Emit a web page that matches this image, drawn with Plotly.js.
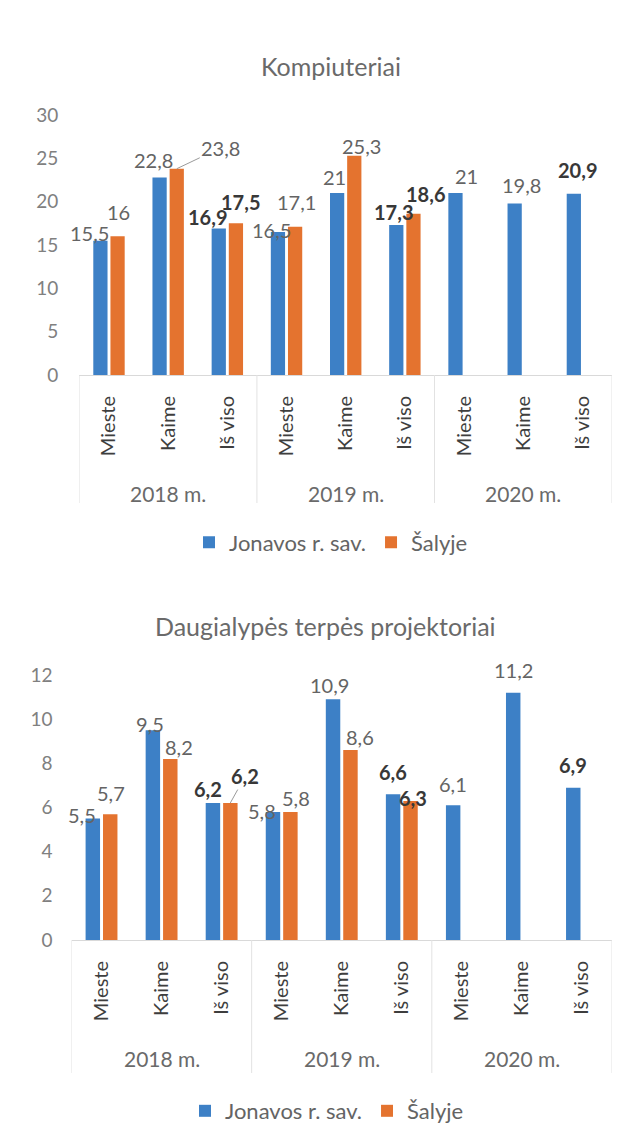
<!DOCTYPE html>
<html>
<head>
<meta charset="utf-8">
<script src="https://cdn.plot.ly/plotly-3.0.1.min.js"></script>
<style>html,body{margin:0;padding:0;background:#fff;}#chart{width:633px;height:1143px;}</style>
</head>
<body>
<div id="chart"></div>
<script>
// ---- data ----
const categories = ['Mieste','Kaime','Iš viso','Mieste','Kaime','Iš viso','Mieste','Kaime','Iš viso'];
const years = ['2018 m.','2019 m.','2020 m.'];
const seriesNames = ['Jonavos r. sav.','Šalyje'];
const title1 = 'Kompiuteriai';
const title2 = 'Daugialypės terpės projektoriai';
const compJonava = [15.5, 22.8, 16.9, 16.5, 21, 17.3, 21, 19.8, 20.9];
const compSalyje = [16, 23.8, 17.5, 17.1, 25.3, 18.6, null, null, null];
const projJonava = [5.5, 9.5, 6.2, 5.8, 10.9, 6.6, 6.1, 11.2, 6.9];
const projSalyje = [5.7, 8.2, 6.2, 5.8, 8.6, 6.3, null, null, null];
const compTicks = [0, 5, 10, 15, 20, 25, 30];
const projTicks = [0, 2, 4, 6, 8, 10, 12];

// ---- style / label placement (pixels) ----
const BLUE = '#3d80c6', ORANGE = '#e4732f';
const FONT = 'Lato, "Open Sans", sans-serif';
const barShift = 8.6;
const compJonavaOff = [[-10.5,8],[-6,17],[-11,12],[-6,2],[-3,16],[-3,13],[11,17],[7,18],[4,24]];
const compSalyjeOff = [[0.5,24],[44,21],[4.6,21],[1.5,24.5],[7,10],[12.5,20]];
const projJonavaOff = [[-11,3.6],[-2.5,6],[-5.5,14],[-10.6,1.3],[-4,14.3],[0,22.6],[0,21.3],[0,22.7],[0,22.6]];
const projSalyjeOff = [[1,21.4],[9,12.3],[15,27],[5.3,13.7],[10,13.4],[3,2.6]];
const compLeaders = {1: [1]};   // series index -> point indices with leader line
const projLeaders = {1: [2]};

const W = 633, H = 1143;
const py = p => 1 - p / H;
const px = p => p / W;
const idx = categories.map((c, i) => i);
const fmt = v => String(v).replace('.', ',');

function bars(vals, name, color, xa, ya, legend, show) {
  return {type: 'bar', x: idx, y: vals, name: name, xaxis: xa, yaxis: ya,
    marker: {color: color}, legend: legend, showlegend: show, hoverinfo: 'skip'};
}

const data = [
  bars(compJonava, seriesNames[0], BLUE, 'x', 'y', 'legend', true),
  bars(compSalyje, seriesNames[1], ORANGE, 'x', 'y', 'legend', true),
  bars(projJonava, seriesNames[0], BLUE, 'x2', 'y2', 'legend2', true),
  bars(projSalyje, seriesNames[1], ORANGE, 'x2', 'y2', 'legend2', true)
];

const annotations = [];
function labels(vals, offs, sIdx, xr, yr, leaders) {
  const sh = sIdx === 0 ? -barShift : barShift;
  vals.forEach((v, i) => {
    if (v === null) return;
    const bold = categories[i] === 'Iš viso';
    const o = offs[i];
    const lead = (leaders[sIdx] || []).indexOf(i) >= 0;
    const a = {xref: xr, yref: yr, x: i, y: v, text: bold ? '<b>' + fmt(v) + '</b>' : fmt(v),
      font: {family: FONT, size: 20, color: bold ? '#383838' : '#646464'}};
    if (lead) {
      Object.assign(a, {showarrow: true, arrowhead: 0, arrowwidth: 1, arrowcolor: '#9a9a9a',
        ax: o[0], ay: -o[1], xshift: sh, standoff: 0});
    } else {
      Object.assign(a, {showarrow: false, xshift: sh + o[0], yshift: o[1], yanchor: 'middle', xanchor: 'center'});
    }
    annotations.push(a);
  });
}
labels(compJonava, compJonavaOff, 0, 'x', 'y', compLeaders);
labels(compSalyje, compSalyjeOff, 1, 'x', 'y', compLeaders);
labels(projJonava, projJonavaOff, 0, 'x2', 'y2', projLeaders);
labels(projSalyje, projSalyjeOff, 1, 'x2', 'y2', projLeaders);

// titles
annotations.push({xref: 'paper', yref: 'paper', x: px(331), y: py(66), text: title1, showarrow: false,
  xanchor: 'center', yanchor: 'middle', font: {family: FONT, size: 25, color: '#6a6a6a'}});
annotations.push({xref: 'paper', yref: 'paper', x: px(325), y: py(626), text: title2, showarrow: false,
  xanchor: 'center', yanchor: 'middle', font: {family: FONT, size: 25, color: '#6a6a6a'}});

// year group labels
const groupSize = categories.length / years.length;
years.forEach((yr, g) => {
  const mid = g * groupSize + (groupSize - 1) / 2;
  annotations.push({xref: 'x', yref: 'paper', x: mid, y: py(493), text: yr, showarrow: false,
    yanchor: 'middle', font: {family: FONT, size: 21, color: '#6a6a6a'}});
  annotations.push({xref: 'x2', yref: 'paper', x: mid, y: py(1058), text: yr, showarrow: false,
    yanchor: 'middle', font: {family: FONT, size: 21, color: '#6a6a6a'}});
});

// divider lines of the two-level category axis
const shapes = [];
for (let g = 0; g <= years.length; g++) {
  const xb = g * groupSize - 0.5;
  shapes.push({type: 'line', xref: 'x', yref: 'paper', x0: xb, x1: xb, y0: py(375), y1: py(503),
    line: {color: '#e2e2e2', width: 1}});
  shapes.push({type: 'line', xref: 'x2', yref: 'paper', x0: xb, x1: xb, y0: py(940), y1: py(1073),
    line: {color: '#e2e2e2', width: 1}});
}

const xCommon = {range: [-0.5, categories.length - 0.5], tickmode: 'array', tickvals: idx, ticktext: categories,
  tickangle: -90, showgrid: false, zeroline: false, showline: true, linecolor: '#d9d9d9', ticks: '',
  ticklabelstandoff: 12, tickfont: {family: FONT, size: 20, color: '#3e3e3e'}, fixedrange: true};
const yCommon = {showgrid: false, zeroline: false, showline: false, ticks: '',
  tickfont: {family: FONT, size: 19, color: '#808080'}, fixedrange: true};

const layout = {
  width: W, height: H, margin: {l: 0, r: 0, t: 0, b: 0},
  paper_bgcolor: '#fff', plot_bgcolor: '#fff',
  barmode: 'group', bargap: 0.42, bargroupgap: 0.17,
  font: {family: FONT},
  xaxis: Object.assign({}, xCommon, {domain: [px(79.4), px(612)], anchor: 'y'}),
  yaxis: Object.assign({}, yCommon, {domain: [py(375), py(115)], range: [0, 30], tickvals: compTicks,
    ticktext: compTicks.map(fmt), anchor: 'x', ticklabelstandoff: 20}),
  xaxis2: Object.assign({}, xCommon, {domain: [px(71.5), px(612)], anchor: 'y2'}),
  yaxis2: Object.assign({}, yCommon, {domain: [py(940), py(675)], range: [0, 12], tickvals: projTicks,
    ticktext: projTicks.map(fmt), anchor: 'x2', ticklabelstandoff: 18}),
  legend: {orientation: 'h', x: px(331), xanchor: 'center', y: py(542.5), yanchor: 'middle',
    font: {family: FONT, size: 22, color: '#646464'}, bgcolor: 'rgba(0,0,0,0)'},
  legend2: {orientation: 'h', x: px(327), xanchor: 'center', y: py(1111), yanchor: 'middle',
    font: {family: FONT, size: 22, color: '#646464'}, bgcolor: 'rgba(0,0,0,0)'},
  annotations: annotations,
  shapes: shapes
};

Plotly.newPlot('chart', data, layout, {displayModeBar: false, staticPlot: true});
</script>
</body>
</html>
